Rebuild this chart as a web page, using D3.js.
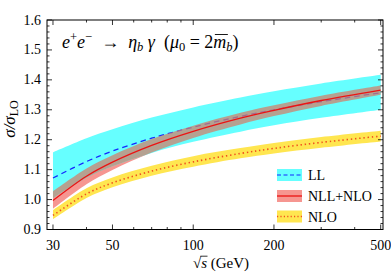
<!DOCTYPE html>
<html><head><meta charset="utf-8">
<script src="https://cdn.jsdelivr.net/npm/d3@7"></script>
<style>body{margin:0;background:#fff}svg{display:block}text{font-family:"Liberation Serif","DejaVu Serif",serif;white-space:pre}</style>
</head><body><svg id="c" width="391" height="277"></svg>
<script>
// ---- data ----
const energies = [30, 40, 50, 70, 100, 150, 200, 300, 500];
const llMid  = [1.072, 1.127, 1.162, 1.205, 1.242, 1.278, 1.300, 1.327, 1.357];
const llHi   = [1.158, 1.205, 1.235, 1.274, 1.308, 1.341, 1.362, 1.388, 1.417];
const llLo   = [1.005, 1.073, 1.111, 1.156, 1.193, 1.227, 1.248, 1.273, 1.300];
const nllMid = [0.997, 1.078, 1.125, 1.181, 1.228, 1.272, 1.298, 1.331, 1.366];
const nllHi  = [1.028, 1.104, 1.148, 1.202, 1.247, 1.290, 1.315, 1.347, 1.381];
const nllLo  = [0.969, 1.051, 1.099, 1.157, 1.206, 1.251, 1.279, 1.313, 1.350];
const nloMid = [0.947, 1.019, 1.056, 1.095, 1.126, 1.154, 1.171, 1.191, 1.212];
const nloHi  = [0.965, 1.038, 1.074, 1.113, 1.145, 1.172, 1.189, 1.209, 1.230];
const nloLo  = [0.934, 1.005, 1.041, 1.080, 1.110, 1.138, 1.154, 1.173, 1.194];
const xTicks = [30, 50, 100, 200, 500];
const xMinor = [40, 60, 70, 80, 90, 300, 400];
const yTicks = [0.9, 1.0, 1.1, 1.2, 1.3, 1.4, 1.5, 1.6];
const legendLabels = ["LL", "NLL+NLO", "NLO"];

const svg = d3.select("#c");
const L = 47, R = 383, T = 20, B = 229.5;
const x = d3.scaleLog().domain([28.5, 510]).range([L, R]);
const y = d3.scaleLinear().domain([0.9, 1.6]).range([B, T]);

const cyan = "rgb(102,255,255)";
const pink = "rgb(246,150,145)";
const yellow = "rgb(255,230,80)";
const curve = d3.curveCatmullRom.alpha(0.5);

const area = (lo, hi) => d3.area().x((d,i)=>x(energies[i])).y0((d,i)=>y(lo[i])).y1((d,i)=>y(hi[i])).curve(curve)(energies);
const line = (v) => d3.line().x((d,i)=>x(energies[i])).y((d,i)=>y(v[i])).curve(curve)(energies);

const defs = svg.append("defs");
defs.append("clipPath").attr("id","llclip").append("path").attr("d", area(llLo, llHi));

// NLL band (pink where alone)
svg.append("path").attr("d", area(nllLo, nllHi)).attr("fill", pink);
// LL band
svg.append("path").attr("d", area(llLo, llHi)).attr("fill", cyan);
// LL dashed line
svg.append("path").attr("d", line(llMid)).attr("fill","none").attr("stroke","rgb(20,40,255)")
  .attr("stroke-width",1.3).attr("stroke-dasharray","5.5,4");
// overlap region (brownish)
svg.append("path").attr("d", area(nllLo, nllHi)).attr("fill","rgb(208,130,108)").attr("fill-opacity",0.75)
  .attr("clip-path","url(#llclip)");
// NLL line
svg.append("path").attr("d", line(nllMid)).attr("fill","none").attr("stroke","rgb(235,20,20)").attr("stroke-width",1.3);
// NLO band
svg.append("path").attr("d", area(nloLo, nloHi)).attr("fill", yellow);
svg.append("path").attr("d", line(nloMid)).attr("fill","none").attr("stroke","rgb(240,80,30)")
  .attr("stroke-width",1.6).attr("stroke-dasharray","1.4,2.8").attr("stroke-linecap","butt");

// frame
svg.append("rect").attr("x",L).attr("y",T).attr("width",R-L).attr("height",B-T)
  .attr("fill","none").attr("stroke","#000").attr("stroke-width",1);

const tk = svg.append("g").attr("stroke","#000").attr("stroke-width",0.8);
xTicks.forEach(v=>{ tk.append("line").attr("x1",x(v)).attr("x2",x(v)).attr("y1",B).attr("y2",B-5);
  tk.append("line").attr("x1",x(v)).attr("x2",x(v)).attr("y1",T).attr("y2",T+5); });
xMinor.forEach(v=>{ tk.append("line").attr("x1",x(v)).attr("x2",x(v)).attr("y1",B).attr("y2",B-2.5);
  tk.append("line").attr("x1",x(v)).attr("x2",x(v)).attr("y1",T).attr("y2",T+2.5); });
d3.range(0.9, 1.6001, 0.02).forEach(v=>{
  const major = Math.abs(v*10 - Math.round(v*10)) < 1e-6;
  const len = major ? 5 : 2.5;
  tk.append("line").attr("x1",L).attr("x2",L+len).attr("y1",y(v)).attr("y2",y(v));
  tk.append("line").attr("x1",R).attr("x2",R-len).attr("y1",y(v)).attr("y2",y(v));
});

// tick labels
const fmt = d3.format(".1f");
yTicks.forEach(v=> svg.append("text").attr("x",41).attr("y",y(v)+4.5).attr("text-anchor","end")
  .attr("font-size",14).text(fmt(v)));
xTicks.forEach(v=> svg.append("text").attr("x",x(v)).attr("y",250).attr("text-anchor","middle")
  .attr("font-size",14).text(v));

// x axis label with sqrt bar
const xl = svg.append("text").attr("x",221).attr("y",268).attr("text-anchor","middle").attr("font-size",15);
xl.append("tspan").text("√");
xl.append("tspan").attr("font-style","italic").text("s");
xl.append("tspan").text(" (GeV)");
try {
  const n = xl.node();
  const a = n.getEndPositionOfChar(0), b = n.getEndPositionOfChar(1);
  svg.append("line").attr("x1",a.x-0.8).attr("x2",b.x+0.5).attr("y1",256.2).attr("y2",256.2)
    .attr("stroke","#000").attr("stroke-width",0.8);
} catch(e) {}

// y axis label
const yl = svg.append("text").attr("transform","translate(15,119) rotate(-90)").attr("text-anchor","middle").attr("font-size",17);
yl.append("tspan").attr("font-style","italic").text("σ");
yl.append("tspan").attr("font-style","italic").text("/");
yl.append("tspan").attr("font-style","italic").text("σ");
yl.append("tspan").attr("font-size",12).attr("dy",3).text("LO");

// title
const tt = svg.append("text").attr("x",62).attr("y",48).attr("font-size",18);
tt.append("tspan").attr("font-style","italic").text("e");
tt.append("tspan").attr("font-size",12.5).attr("dy",-7).text("+");
tt.append("tspan").attr("font-style","italic").attr("dy",7).text("e");
tt.append("tspan").attr("font-size",12.5).attr("dy",-7).text("−");
tt.append("tspan").attr("dy",7).text("  →  ");
tt.append("tspan").attr("font-style","italic").text("η");
tt.append("tspan").attr("font-style","italic").attr("font-size",12.5).attr("dy",3).text("b");
tt.append("tspan").attr("font-style","italic").attr("dy",-3).text(" γ");
tt.append("tspan").text("  (");
tt.append("tspan").attr("font-style","italic").text("μ");
tt.append("tspan").attr("font-size",12.5).attr("dy",3).text("0");
tt.append("tspan").attr("dy",-3).text(" = 2");
tt.append("tspan").attr("font-style","italic").text("m");
tt.append("tspan").attr("font-style","italic").attr("font-size",12.5).attr("dy",3).text("b");
tt.append("tspan").attr("dy",-3).text(")");
try {
  const node = tt.node();
  const mi = node.textContent.lastIndexOf("m");
  const s = node.getStartPositionOfChar(mi), e = node.getEndPositionOfChar(mi);
  svg.append("line").attr("x1",s.x+1.5).attr("x2",e.x+1.5).attr("y1",34.5).attr("y2",34.5).attr("stroke","#000").attr("stroke-width",0.9);
} catch(err) {}

// legend
const lg = svg.append("g");
const rows = [
  {fill: cyan, stroke:"rgb(20,40,255)", dash:"4,2.5", w:1.2},
  {fill: pink, stroke:"rgb(235,20,20)", dash:null, w:1.3},
  {fill: yellow, stroke:"rgb(240,80,30)", dash:"1.2,2.2", w:1.4}
];
const rowY = [175, 196, 216.5];
rows.forEach((r,i)=>{
  lg.append("rect").attr("x",277).attr("y",rowY[i]-6).attr("width",25).attr("height",12).attr("fill",r.fill);
  const ln = lg.append("line").attr("x1",277).attr("x2",302).attr("y1",rowY[i]).attr("y2",rowY[i])
    .attr("stroke",r.stroke).attr("stroke-width",r.w);
  if (r.dash) ln.attr("stroke-dasharray", r.dash);
  lg.append("text").attr("x",308).attr("y",rowY[i]+5).attr("font-size",14).text(legendLabels[i]);
});
</script></body></html>
